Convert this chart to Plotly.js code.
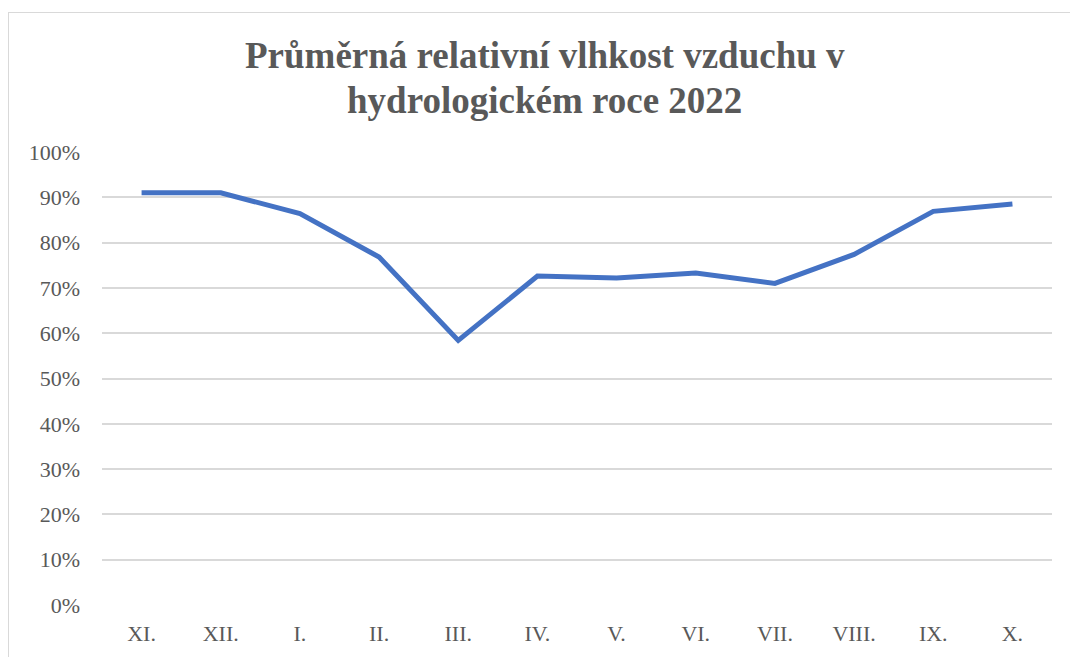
<!DOCTYPE html>
<html>
<head>
<meta charset="utf-8">
<script src="https://cdn.plot.ly/plotly-3.0.1.min.js"></script>
<style>
  html, body { margin: 0; padding: 0; background: #fff; }
  #wrap { position: relative; width: 1070px; height: 657px; overflow: hidden; }
  #chart { width: 1070px; height: 657px; }
  #frame { position: absolute; left: 8px; top: 12px; width: 1080px; height: 700px;
           border-left: 1px solid #d9d9d9; border-top: 1px solid #d9d9d9; pointer-events: none; }
</style>
</head>
<body>
<div id="wrap">
  <div id="chart"></div>
  <div id="frame"></div>
</div>
<script>
const months = ["XI.", "XII.", "I.", "II.", "III.", "IV.", "V.", "VI.", "VII.", "VIII.", "IX.", "X."];
const humidity = [91.0, 91.0, 86.4, 76.8, 58.4, 72.6, 72.2, 73.3, 71.0, 77.4, 86.9, 88.5];
const yTicks = [0, 10, 20, 30, 40, 50, 60, 70, 80, 90, 100];
const titleLines = ["Průměrná relativní vlhkost vzduchu v", "hydrologickém roce 2022"];

const fontFamily = "'Liberation Serif', 'Times New Roman', serif";
const titleFont = { family: fontFamily, size: 37, color: "#595959", weight: "bold" };

Plotly.newPlot("chart", [{
  type: "scatter",
  mode: "lines",
  x: months,
  y: humidity,
  line: { color: "#4472C4", width: 5, shape: "linear" },
  hoverinfo: "x+y"
}], {
  width: 1070,
  height: 657,
  margin: { l: 102, r: 18, t: 152, b: 52 },
  paper_bgcolor: "#ffffff",
  plot_bgcolor: "#ffffff",
  showlegend: false,
  annotations: [
    { text: titleLines[0], xref: "paper", yref: "paper", x: 0.466, y: 1.2130,
      xanchor: "center", yanchor: "middle", showarrow: false, font: titleFont },
    { text: titleLines[1], xref: "paper", yref: "paper", x: 0.466, y: 1.1137,
      xanchor: "center", yanchor: "middle", showarrow: false, font: titleFont }
  ],
  xaxis: {
    type: "category",
    categoryorder: "array",
    categoryarray: months,
    range: [-0.5, months.length - 0.5],
    showgrid: false,
    zeroline: false,
    showline: false,
    ticks: "",
    ticklabelstandoff: 13,
    tickfont: { family: fontFamily, size: 22, color: "#595959" }
  },
  yaxis: {
    range: [0, 100],
    tickvals: yTicks,
    ticktext: yTicks.map(v => v + "%"),
    showgrid: true,
    gridcolor: "#d9d9d9",
    gridwidth: 2,
    zeroline: false,
    showline: false,
    ticks: "",
    ticklabelstandoff: 21,
    tickfont: { family: fontFamily, size: 22, color: "#595959" }
  }
}, { displayModeBar: false, staticPlot: true });
</script>
</body>
</html>
